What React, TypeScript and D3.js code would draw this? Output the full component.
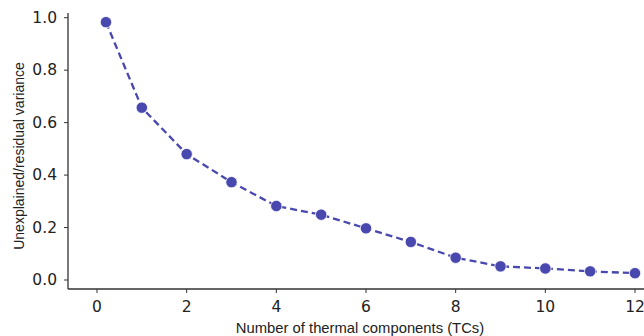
import React from "react";
import * as d3 from "d3";

const xValues = [0.2, 1, 2, 3, 4, 5, 6, 7, 8, 9, 10, 11, 12];
const yValues = [0.983, 0.657, 0.48, 0.373, 0.282, 0.249, 0.197, 0.145, 0.085, 0.052, 0.044, 0.033, 0.026];
const xTicks = [0, 2, 4, 6, 8, 10, 12];
const yTicks = [0, 0.2, 0.4, 0.6, 0.8, 1.0];

const W = 644;
const H = 336;
const COLOR = "#4848ae";

export default function App() {
  const x = d3.scaleLinear().domain([0, 12]).range([97, 635]);
  const y = d3.scaleLinear().domain([0, 1]).range([280, 17.7]);
  const left = 68;
  const bottom = 289;
  const top = 13;
  const line = d3
    .line<number>()
    .x((_, i) => x(xValues[i]))
    .y((d) => y(d));
  return (
    <svg width={W} height={H} style={{ position: "absolute", left: 0, top: 0 }}>
      <rect width={W} height={H} fill="#fff" />
      <line x1={left} x2={left} y1={top} y2={bottom} stroke="#333" strokeWidth={1.3} />
      <line x1={left} x2={W} y1={bottom} y2={bottom} stroke="#333" strokeWidth={1.3} />
      {yTicks.map((t) => (
        <g key={"y" + t}>
          <line x1={left - 4} x2={left} y1={y(t)} y2={y(t)} stroke="#333" strokeWidth={1} />
          <text
            x={left - 11}
            y={y(t)}
            textAnchor="end"
            dominantBaseline="central"
            fontFamily="DejaVu Sans"
            fontSize={15.5}
            fill="#222"
          >
            {t.toFixed(1)}
          </text>
        </g>
      ))}
      {xTicks.map((t) => (
        <g key={"x" + t}>
          <line x1={x(t)} x2={x(t)} y1={bottom} y2={bottom + 4} stroke="#333" strokeWidth={1} />
          <text
            x={x(t)}
            y={bottom + 18}
            textAnchor="middle"
            dominantBaseline="central"
            fontFamily="DejaVu Sans"
            fontSize={15.5}
            fill="#222"
          >
            {t}
          </text>
        </g>
      ))}
      <path
        d={line(yValues) || ""}
        fill="none"
        stroke={COLOR}
        strokeWidth={2.3}
        strokeDasharray="7,4"
      />
      {yValues.map((v, i) => (
        <circle key={i} cx={x(xValues[i])} cy={y(v)} r={5.7} fill={COLOR} stroke="#fff" strokeWidth={0.8} />
      ))}
      <text
        x={360}
        y={333}
        textAnchor="middle"
        fontFamily="Liberation Sans"
        fontSize={14.8}
        fill="#222"
      >
        Number of thermal components (TCs)
      </text>
      <text
        transform={`translate(18.5,156) rotate(-90)`}
        textAnchor="middle"
        dominantBaseline="central"
        fontFamily="Liberation Sans"
        fontSize={14}
        fill="#222"
      >
        Unexplained/residual variance
      </text>
    </svg>
  );
}
